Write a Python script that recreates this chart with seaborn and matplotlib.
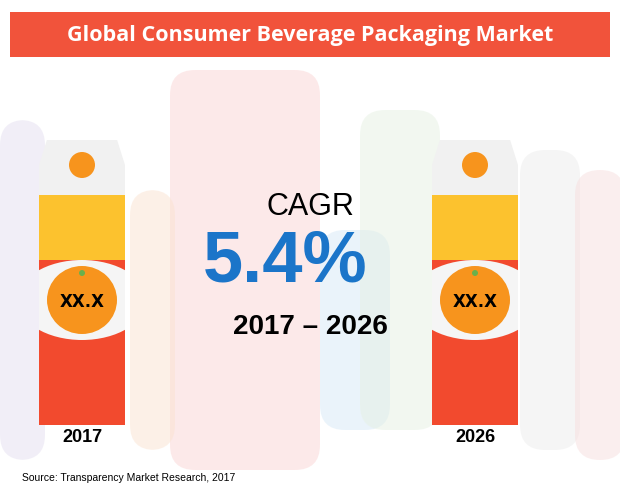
import matplotlib
matplotlib.use("Agg")
import matplotlib.pyplot as plt
import seaborn as sns
import pandas as pd
from matplotlib.patches import Rectangle, Ellipse, Polygon, FancyBboxPatch

years = ["2017", "2026"]
values = [230, 230]          # carton heights (placeholder "XX.X" values)
value_labels = ["XX.X", "XX.X"]
title = "Global Consumer Beverage Packaging Market"
cagr_label = "CAGR"
cagr_value = "5.4%"
period = "2017 – 2026"
source = "Source: Transparency Market Research, 2017"

fig = plt.figure(figsize=(6.2, 5), dpi=100)
fig.patch.set_facecolor("white")

bg = fig.add_axes([0, 0, 1, 1])
bg.set_xlim(0, 620); bg.set_ylim(500, 0); bg.axis("off")
for (x, y, w, h, c) in [(0, 120, 45, 340, "#e4dff0"), (170, 70, 150, 400, "#fbd5d5"),
                        (320, 230, 70, 200, "#d6e9f7"), (360, 110, 80, 320, "#e6f1e3"),
                        (520, 150, 60, 300, "#ececec"), (575, 170, 50, 290, "#f7dede"),
                        (130, 190, 45, 260, "#fbe3d1")]:
    bg.add_patch(FancyBboxPatch((x, y), w, h, boxstyle="round,pad=0,rounding_size=25",
                                fc=c, ec="none", alpha=0.5))
bg.add_patch(Rectangle((10, 12), 600, 45, fc="#f1533b", ec="none"))
bg.text(310, 35, title, ha="center", va="center", color="white",
        fontsize=15.5, fontweight="bold", family="Open Sans")
bg.text(310, 207, cagr_label, ha="center", va="center", fontsize=22, family="Liberation Sans")
bg.text(285, 263, cagr_value, ha="center", va="center", fontsize=52, fontweight="bold",
        color="#1b75c9", family="Liberation Sans")
bg.text(310, 327, period, ha="center", va="center", fontsize=20, fontweight="bold",
        family="Liberation Sans")
bg.text(22, 478, source, ha="left", va="center", fontsize=7.5, family="Liberation Sans")

ax = fig.add_axes([0, 0, 1, 1])
ax.patch.set_alpha(0)
df = pd.DataFrame({"year": years, "value": values})
sns.barplot(data=df, x="year", y="value", ax=ax, color="#f24a2e", width=86/393,
            saturation=1, edgecolor="none")
ax.set_xlim(-82/393, (620-82)/393)
ax.set_ylim(-75, 425)
ax.axis("off")
w = 86/393
bars = list(ax.patches)
for i, (yr, v, lab) in enumerate(zip(years, values, value_labels)):
    clip = bars[i]
    y1 = ax.add_patch(Rectangle((i - w/2, v - 65), w, 65, fc="#fcc22e", ec="none"))
    wh = ax.add_patch(Ellipse((i, v - 105), w*1.5, 80, fc="#f5f5f5", ec="none"))
    wh.set_clip_path(clip)
    ax.add_patch(Ellipse((i, v - 105), 70/393, 68, fc="#f7941d", ec="none"))
    ax.add_patch(Ellipse((i, v - 78), 6/393, 6, fc="#6ab04c", ec="none"))
    ax.text(i, v - 107, lab, ha="center", va="center", fontsize=12, fontweight="bold")
    ax.add_patch(Polygon([(i - w/2, v), (i - w/2, v + 30), (i - w/2 + 0.02, v + 55),
                          (i + w/2 - 0.02, v + 55), (i + w/2, v + 30), (i + w/2, v)],
                         fc="#f1f1f1", ec="none"))
    ax.add_patch(Ellipse((i, v + 30), 26/393, 26, fc="#f7941d", ec="none"))
    ax.text(i, -12, yr, ha="center", va="center", fontsize=13, fontweight="bold",
            family="Liberation Sans")

fig.savefig("out.png", dpi=100)
